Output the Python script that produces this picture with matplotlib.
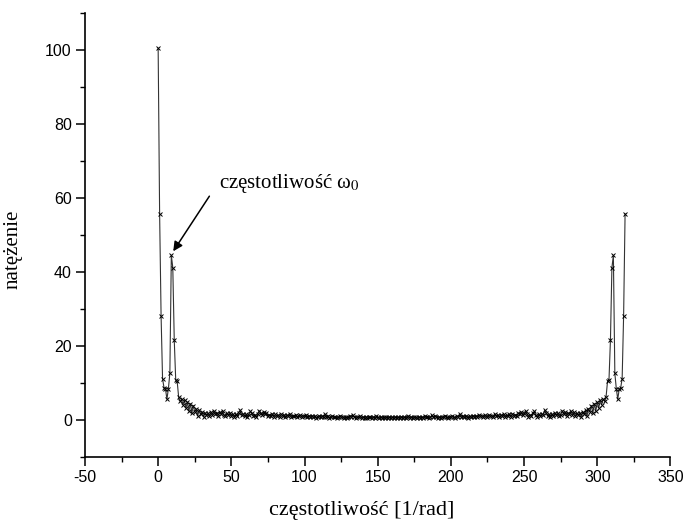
import numpy as np
import matplotlib
matplotlib.use("Agg")
import matplotlib.pyplot as plt

# spectrum magnitude, first half (k = 0..160); the spectrum is symmetric
left_vals = [
    100.5, 55.7, 28.2, 11.2, 8.7, 8.4, 5.6, 8.5, 12.6, 44.5,
    41.2, 21.6, 10.8, 10.4, 6.2, 5.0, 5.6, 4.1, 5.3, 3.2,
    4.8, 2.4, 4.4, 1.8, 3.9, 2.2, 3.0, 1.1, 2.6, 1.5,
    2.2, 0.8, 2.0, 1.3, 1.8, 1.0, 2.1, 1.4, 2.4, 1.6,
    1.9, 1.2, 2.2, 1.7, 2.5, 1.3, 1.0, 1.8, 1.4, 2.0,
    1.1, 1.6, 0.9, 1.5, 1.2, 2.0, 2.6, 1.4, 1.7, 1.1,
    1.5, 0.9, 1.3, 2.3, 1.8, 1.2, 1.4, 0.8, 1.6, 2.5,
    1.9, 1.3, 2.2, 1.5, 1.8, 1.0, 1.4, 1.2, 1.7, 0.9,
    1.5, 1.1, 1.3, 0.8, 1.6, 1.2, 1.4, 0.9, 1.3, 1.1,
    1.7, 0.8, 1.2, 1.0, 1.4, 0.7, 1.1, 1.3, 0.9, 1.2,
    1.0, 1.4, 0.8, 1.1, 0.9, 1.2, 0.7, 1.0, 0.6, 0.9,
    1.1, 0.7, 1.0, 0.8, 1.5, 0.9, 1.1, 0.6, 0.8, 1.0,
    0.7, 0.9, 0.5, 0.8, 1.2, 0.7, 0.9, 0.6, 0.8, 0.5,
    0.9, 1.1, 0.7, 1.3, 0.8, 0.6, 0.9, 0.7, 1.0, 0.5,
    0.8, 0.6, 0.9, 0.4, 0.7, 0.9, 0.5, 0.8, 0.6, 1.0,
    0.7, 0.5, 0.8, 0.6, 0.9, 0.4, 0.7, 0.6, 0.8, 0.5,
    0.7,
]
# second half mirrors the first (k = 161..319)
right_vals = left_vals[159:0:-1]
values = np.array(left_vals + right_vals)
freq = np.arange(len(values))

x_ticks = [-50, 0, 50, 100, 150, 200, 250, 300, 350]
y_ticks = [0, 20, 40, 60, 80, 100]

plt.rcParams['axes.unicode_minus'] = False
plt.rcParams['mathtext.fontset'] = 'stix'

fig = plt.figure(figsize=(6.88, 5.24), dpi=100)
ax = fig.add_axes([0.1235, 0.128, 0.851, 0.847])

ax.plot(freq, values, color='#333333', lw=0.8, marker='x', ms=3.5,
        mew=0.7, mec='black')

ax.set_xlim(-50, 350)
ax.set_ylim(-10, 110)
ax.set_xticks(x_ticks)
ax.set_yticks(y_ticks)
ax.set_xticks(np.arange(-25, 350, 50), minor=True)
ax.set_yticks(np.arange(-10, 111, 20), minor=True)

for s in ['top', 'right']:
    ax.spines[s].set_visible(False)
for s in ['left', 'bottom']:
    ax.spines[s].set_linewidth(1.2)

ax.tick_params(which='major', direction='out', length=6.5, width=1.1,
               labelsize=11.5, pad=3)
ax.tick_params(which='minor', direction='out', length=3.6, width=1.0)
for lab in ax.get_xticklabels() + ax.get_yticklabels():
    lab.set_fontfamily('Liberation Sans')

ax.set_xlabel('częstotliwość [1/rad]', fontfamily='Liberation Serif',
              fontsize=16)
ax.xaxis.set_label_coords(0.472, -0.1)
ax.set_ylabel('natężenie', fontfamily='Liberation Serif', fontsize=15)
ax.yaxis.set_label_coords(-0.106, 0.468)

ax.annotate('', xy=(10.3, 45.6), xytext=(35, 60.5),
            arrowprops=dict(arrowstyle='-|>', color='black', lw=1.1,
                            mutation_scale=14, shrinkA=0, shrinkB=0))
ax.text(41.5, 64, 'częstotliwość ω$_0$', fontfamily='Liberation Serif',
        fontsize=15, va='center', ha='left')

fig.savefig('out.png', dpi=100)
